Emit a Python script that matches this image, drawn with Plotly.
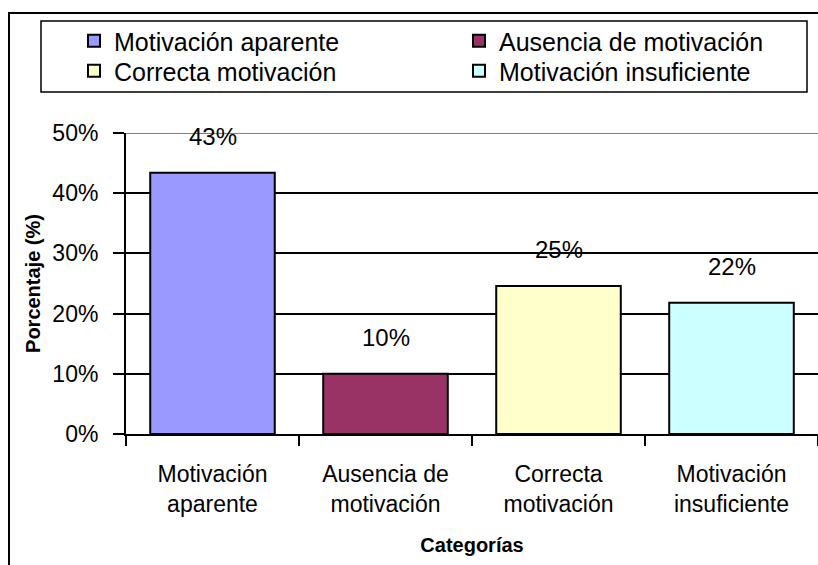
import plotly.graph_objects as go

categories = ["Motivación aparente", "Ausencia de motivación", "Correcta motivación", "Motivación insuficiente"]
tick_labels = ["Motivación<br>aparente", "Ausencia de<br>motivación", "Correcta<br>motivación", "Motivación<br>insuficiente"]
values = [0.434, 0.100, 0.246, 0.218]
colors = ["#9999FF", "#993366", "#FFFFCC", "#CCFFFF"]
legend_rows = ["legend", "legend", "legend2", "legend2"]
y_ticks = [0, 0.1, 0.2, 0.3, 0.4, 0.5]

FONT = "Arial, Liberation Sans, sans-serif"

W, H = 818, 565
L, R, T, B = 126, 0, 133, 131
PW, PH = W - L - R, H - T - B

def px_x(p):
    return (p - L) / PW

def px_y(p):
    return (H - B - p) / PH

fig = go.Figure()
for cat, lab, v, c, lg in zip(categories, tick_labels, values, colors, legend_rows):
    fig.add_trace(go.Bar(
        x=[lab], y=[v], name=cat, legend=lg,
        marker=dict(color=c, line=dict(color="black", width=2)),
        width=0.72,
    ))

for lab, v in zip(tick_labels, values):
    fig.add_annotation(
        x=lab, y=v, xref="x", yref="y",
        text=f"{round(v * 100):.0f}%", showarrow=False,
        yanchor="middle", yshift=36,
        font=dict(family=FONT, size=24, color="black"),
    )

shapes = [
    # outer chart frame
    dict(type="rect", xref="paper", yref="paper",
         x0=px_x(9), x1=px_x(830), y0=px_y(13), y1=px_y(580),
         line=dict(color="black", width=2), fillcolor="rgba(0,0,0,0)", layer="below"),
    # legend frame
    dict(type="rect", xref="paper", yref="paper",
         x0=px_x(41), x1=px_x(807), y0=px_y(92), y1=px_y(21),
         line=dict(color="black", width=1.5), fillcolor="rgba(0,0,0,0)", layer="above"),
    # top gridline in gray
    dict(type="line", xref="paper", yref="y", x0=0, x1=1, y0=0.5, y1=0.5,
         line=dict(color="#808080", width=2), layer="above"),
]

legend_style = dict(
    orientation="h", xanchor="left", yanchor="middle",
    entrywidth=340, entrywidthmode="pixels",
    font=dict(family=FONT, size=25, color="black"),
    bgcolor="rgba(0,0,0,0)", borderwidth=0,
    traceorder="normal",
)

fig.update_layout(
    width=W, height=H,
    margin=dict(l=L, r=R, t=T, b=B, autoexpand=False),
    paper_bgcolor="white", plot_bgcolor="white",
    font=dict(family=FONT, size=22, color="black"),
    bargap=0.28,
    showlegend=True,
    legend=dict(x=px_x(74), y=px_y(41), **legend_style),
    legend2=dict(x=px_x(74), y=px_y(71), **legend_style),
    shapes=shapes,
)

fig.update_xaxes(
    type="category", automargin=False,
    showline=True, linecolor="black", linewidth=2,
    ticks="outside", tickson="boundaries", ticklen=10, tickwidth=2, tickcolor="black",
    tickfont=dict(family=FONT, size=23, color="black"),
    ticklabelstandoff=18,
    showgrid=False,
    title=dict(text="<b>Categorías</b>", font=dict(family=FONT, size=20, color="black"), standoff=22),
)
fig.update_yaxes(
    range=[0, 0.5], automargin=False,
    tickvals=y_ticks, tickformat=".0%",
    showline=True, linecolor="black", linewidth=2,
    ticks="outside", ticklen=11, tickwidth=2, tickcolor="black",
    tickfont=dict(family=FONT, size=23, color="black"),
    ticklabelstandoff=10,
    showgrid=True, gridcolor="black", gridwidth=2,
    zeroline=False,
    title=dict(text="<b>Porcentaje (%)</b>", font=dict(family=FONT, size=20, color="black"), standoff=6),
)

fig.write_html("out.html", config={"displayModeBar": False},
               post_script="document.body.style.margin='0px';")
